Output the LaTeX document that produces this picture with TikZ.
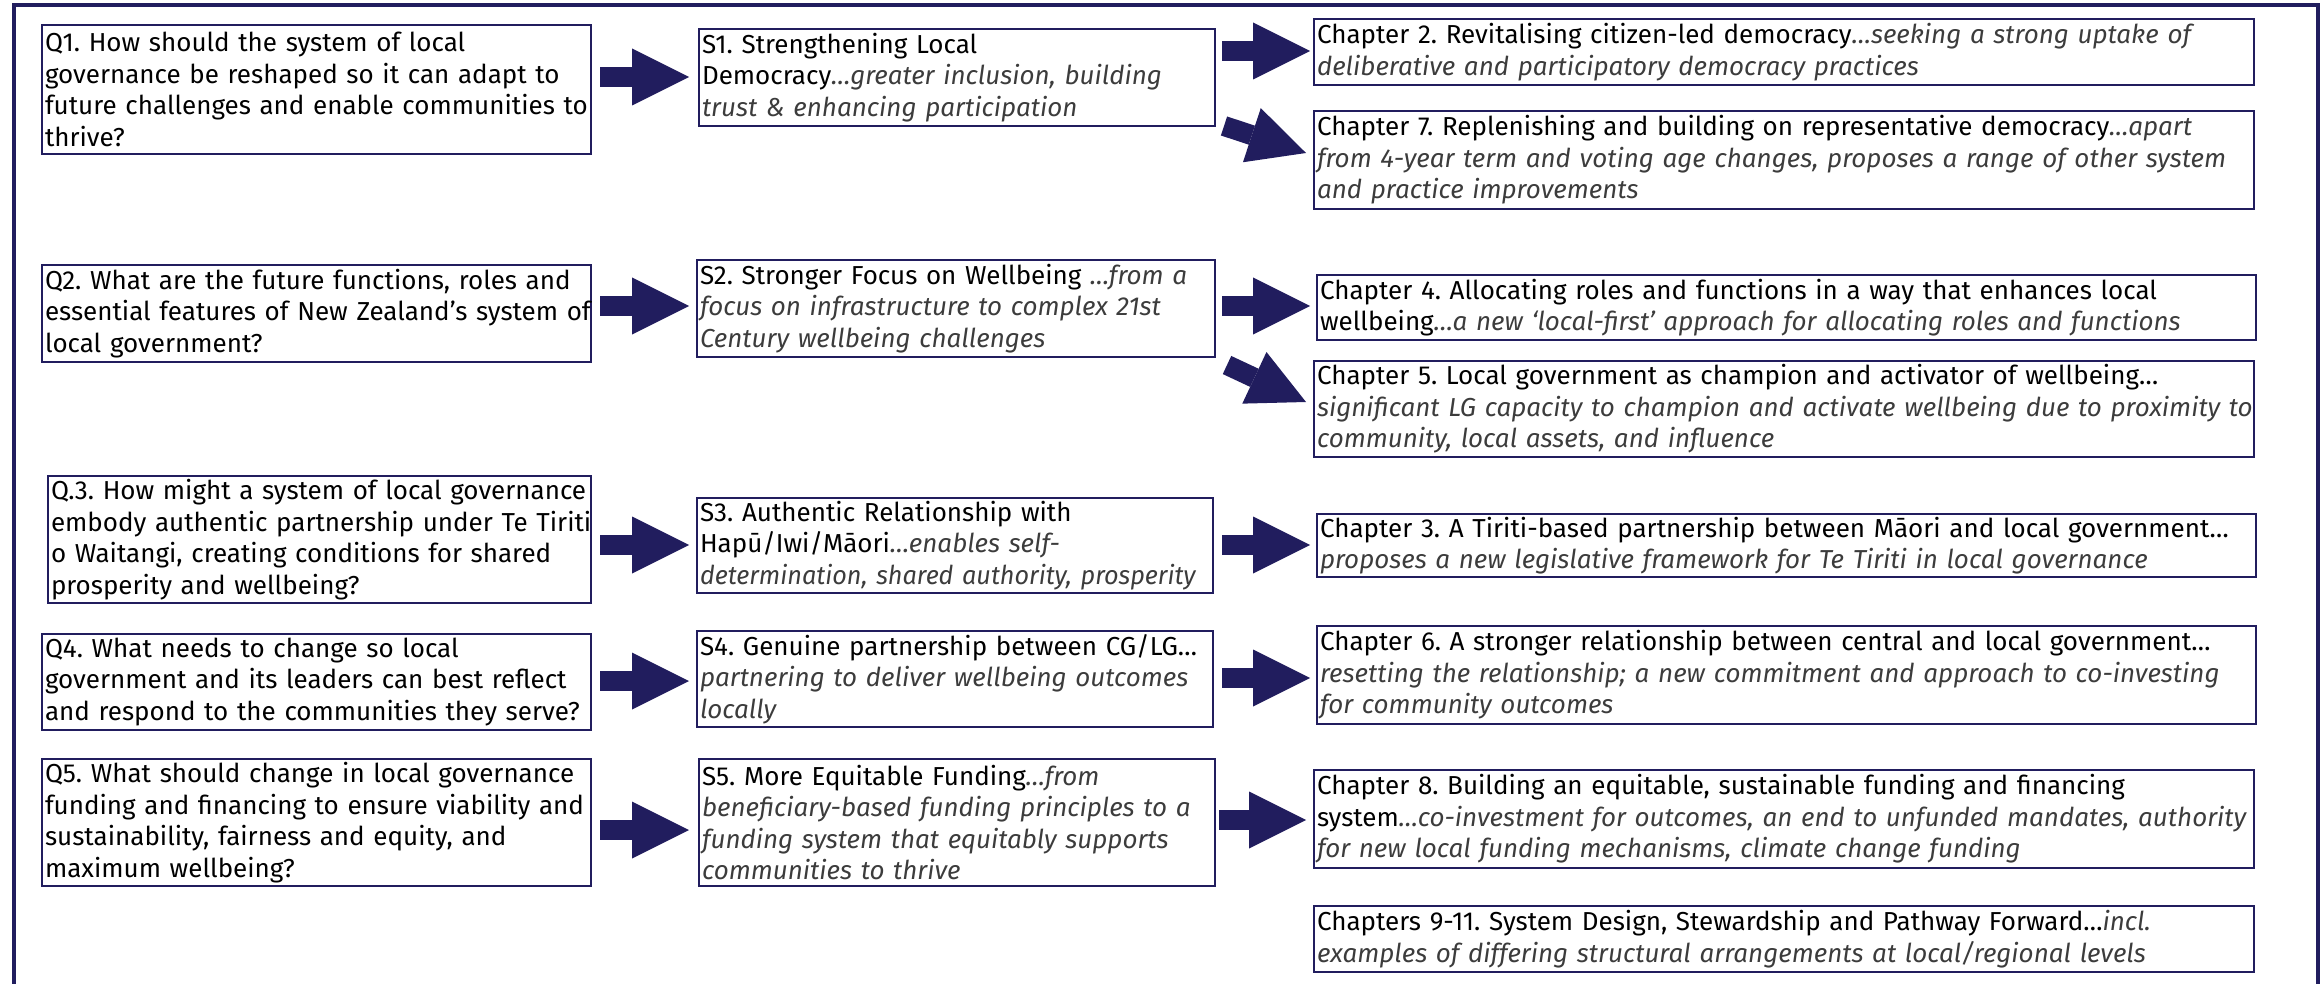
\documentclass[tikz,border=0pt]{standalone}
\usepackage{fontspec}
\setmainfont{Fira Sans}
\usetikzlibrary{arrows.meta}
\definecolor{navy}{HTML}{211D5E}
\definecolor{itgray}{HTML}{3C3C3C}
\newcommand\ital[1]{{\itshape\color{itgray}#1}}
\newcommand\mkbox[6]{%
  \pgfmathsetmacro\myBW{(#4-#2)*0.5}%
  \pgfmathsetmacro\myBH{(#5-#3)*0.5}%
  \pgfmathsetmacro\myTW{\myBW-3}%
  \node[box, minimum width=\myBW pt, minimum height=\myBH pt, text width=\myTW pt, anchor=north west] (#1) at (#2,#3) {\rightskip=-25pt plus 1fil\relax\hyphenpenalty=10000\relax\lefthyphenmin=62\relax #6};}
\frenchspacing
\begin{document}
\begin{tikzpicture}[x=0.5pt,y=-0.5pt,
  box/.style={draw=navy, line width=1pt, inner xsep=1.5pt, inner ysep=0.5pt, align=left, font=\fontsize{13}{15.75}\selectfont},
  barrow/.style={navy, line width=10pt, -{Triangle[length=28.5pt,width=28.5pt,line width=0pt]}}]
\useasboundingbox (0,0) rectangle (2323,984);
\draw[navy, line width=1.6pt] (14,5) rectangle (2318,1010);

% Questions
\mkbox{q1}{41}{24}{590}{153}{Q1. How should the system of local\\governance be reshaped so it can adapt to\\future challenges and enable communities to\\thrive?}
\mkbox{q2}{41}{264}{590}{361}{Q2. What are the future functions, roles and\\essential features of New Zealand’s system of\\local government?}
\mkbox{q3}{47}{475}{590}{602}{Q.3. How might a system of local governance\\embody authentic partnership under Te Tiriti\\o Waitangi, creating conditions for shared\\prosperity and wellbeing?}
\mkbox{q4}{41}{633}{590}{729}{Q4. What needs to change so local\\government and its leaders can best reflect\\and respond to the communities they serve?}
\mkbox{q5}{41}{758}{590}{885}{Q5. What should change in local governance\\funding and financing to ensure viability and\\sustainability, fairness and equity, and\\maximum wellbeing?}

% Strategies
\mkbox{s1}{698}{28}{1214}{125}{S1. Strengthening Local\\Democracy\ital{…greater inclusion, building\\trust \& enhancing participation}}
\mkbox{s2}{696}{259}{1214}{356}{S2. Stronger Focus on Wellbeing \ital{…from a\\focus on infrastructure to complex 21st\\Century wellbeing challenges}}
\mkbox{s3}{696}{497}{1212}{592}{S3. Authentic Relationship with\\Hapū/Iwi/Māori\ital{…enables self-\\{\addfontfeatures{FakeStretch=0.97}determination, shared authority, prosperity}}}
\mkbox{s4}{696}{630}{1212}{726}{S4. Genuine partnership between CG/LG…\\\ital{partnering to deliver wellbeing outcomes\\locally}}
\mkbox{s5}{698}{758}{1214}{885}{S5. More Equitable Funding\ital{…from\\beneficiary-based funding principles to a\\funding system that equitably supports\\communities to thrive}}

% Chapters
\mkbox{c2}{1313}{18}{2253}{84}{Chapter 2. Revitalising citizen-led democracy\ital{…seeking a strong uptake of\\deliberative and participatory democracy practices}}
\mkbox{c7}{1313}{110}{2253}{208}{Chapter 7. Replenishing and building on representative democracy\ital{…apart\\from 4-year term and voting age changes, proposes a range of other system\\and practice improvements}}
\mkbox{c4}{1316}{274}{2255}{339}{Chapter 4. Allocating roles and functions in a way that enhances local\\wellbeing\ital{…a new ‘local-first’ approach for allocating roles and functions}}
\mkbox{c5}{1313}{360}{2253}{456}{Chapter 5. Local government as champion and activator of wellbeing…\\\ital{significant LG capacity to champion and activate wellbeing due to proximity to\\community, local assets, and influence}}
\mkbox{c3}{1316}{513}{2255}{576}{Chapter 3. A Tiriti-based partnership between Māori and local government…\\\ital{proposes a new legislative framework for Te Tiriti in local governance}}
\mkbox{c6}{1316}{625}{2255}{723}{Chapter 6. A stronger relationship between central and local government…\\\ital{resetting the relationship; a new commitment and approach to co-investing\\for community outcomes}}
\mkbox{c8}{1313}{769}{2253}{867}{Chapter 8. Building an equitable, sustainable funding and financing\\system\ital{…co-investment for outcomes, an end to unfunded mandates, authority\\for new local funding mechanisms, climate change funding}}
\mkbox{c9}{1313}{905}{2253}{971}{Chapters 9-11. System Design, Stewardship and Pathway Forward…\ital{incl.\\examples of differing structural arrangements at local/regional levels}}

% arrow end points
\coordinate (qa1s) at (600,77);   \coordinate (qa1e) at (689,77);
\coordinate (qa2s) at (600,306);  \coordinate (qa2e) at (689,306);
\coordinate (qa3s) at (600,545);  \coordinate (qa3e) at (689,545);
\coordinate (qa4s) at (600,681);  \coordinate (qa4e) at (689,681);
\coordinate (qa5s) at (600,830);  \coordinate (qa5e) at (689,830);
\coordinate (sa1s) at (1222,51);  \coordinate (sa1e) at (1310,51);
\coordinate (sa7s) at (1224,126); \coordinate (sa7e) at (1306,153);
\coordinate (sa4s) at (1222,306); \coordinate (sa4e) at (1310,306);
\coordinate (sa5s) at (1227,365); \coordinate (sa5e) at (1306,402);
\coordinate (sa3s) at (1222,545); \coordinate (sa3e) at (1310,545);
\coordinate (sa6s) at (1222,678); \coordinate (sa6e) at (1310,678);
\coordinate (sa8s) at (1219,820); \coordinate (sa8e) at (1306,820);

\foreach \a in {qa1,qa2,qa3,qa4,qa5,sa1,sa7,sa4,sa5,sa3,sa6,sa8}
  \draw[barrow] (\a s) -- (\a e);
\end{tikzpicture}
\end{document}
